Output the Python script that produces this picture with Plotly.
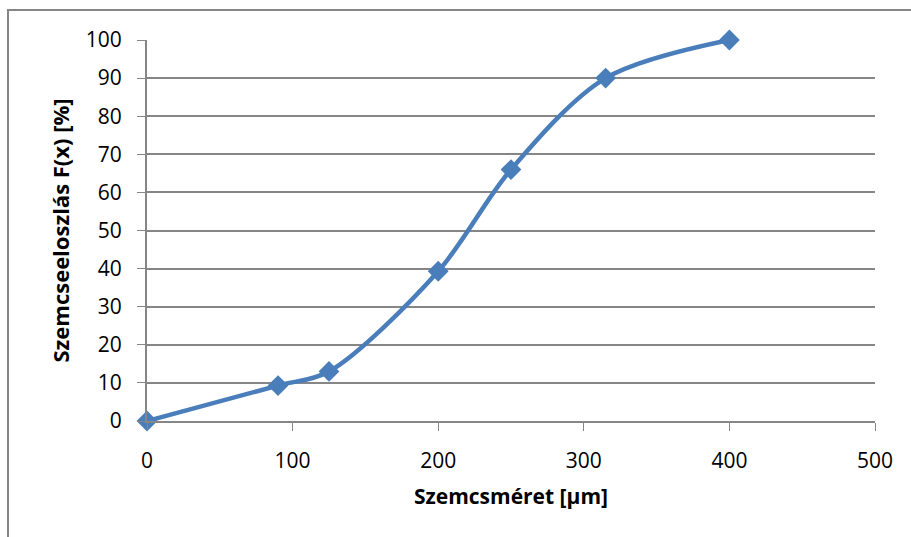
import plotly.graph_objects as go

x_vals = [0, 90, 125, 200, 250, 315, 400]
y_vals = [0, 9.3, 13, 39.3, 66, 90, 100]
x_ticks = [0, 100, 200, 300, 400, 500]
y_ticks = [0, 10, 20, 30, 40, 50, 60, 70, 80, 90, 100]

fig = go.Figure()
fig.add_trace(go.Scatter(
    x=x_vals, y=y_vals, mode="lines+markers",
    line=dict(color="#4A7EBB", width=4.5, shape="spline", smoothing=0.9),
    marker=dict(symbol="diamond", size=16, color="#4A7EBB"),
    cliponaxis=False, showlegend=False,
))

font = "Open Sans, Calibri, Lato, sans-serif"
fig.update_layout(
    width=911, height=537,
    margin=dict(l=147, r=36, t=40, b=116),
    paper_bgcolor="white", plot_bgcolor="white",
    font=dict(family=font, size=21, color="black"),
    xaxis=dict(
        range=[0, 500], tickvals=x_ticks, ticks="outside", ticklen=8,
        tickcolor="#868686", showline=True, linecolor="#868686", linewidth=2,
        showgrid=False, zeroline=False, ticklabelstandoff=12,
        title=dict(text="<b>Szemcsméret [µm]</b>", font=dict(size=21), standoff=16),
    ),
    yaxis=dict(
        range=[0, 100], tickvals=y_ticks, ticks="outside", ticklen=8,
        tickcolor="#868686", showline=True, linecolor="#868686", linewidth=2,
        showgrid=True, gridcolor="#868686", gridwidth=1.5, zeroline=False,
        ticklabelstandoff=11,
        title=dict(text="<b>Szemcseeloszlás F(x) [%]</b>", font=dict(size=22), standoff=10),
    ),
    shapes=[dict(
        type="rect", xref="paper", yref="paper",
        x0=(8 - 147) / 728, x1=(920 - 147) / 728,
        y0=(421 - 545) / 381, y1=(421 - 10) / 381,
        line=dict(color="#868686", width=2), layer="below",
    )],
)
fig.write_html("out.html")
